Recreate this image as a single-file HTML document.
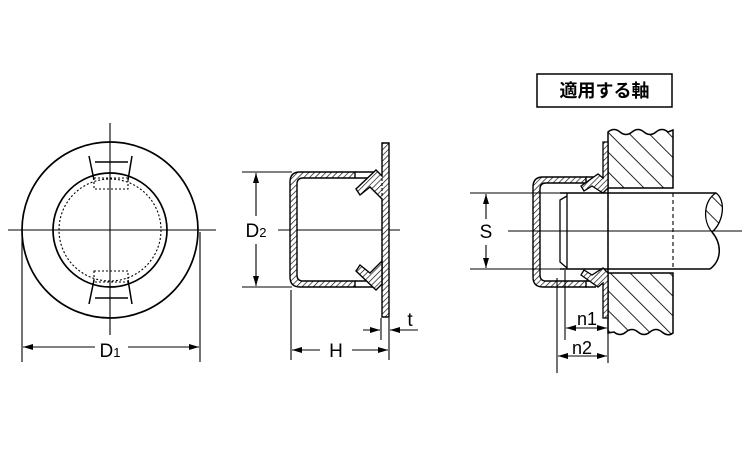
<!DOCTYPE html>
<html><head><meta charset="utf-8"><style>
html,body{margin:0;padding:0;background:#fff;}
svg{display:block;}
text{font-family:"Liberation Sans","Noto Sans CJK JP",sans-serif;fill:#000;}
</style></head><body>
<svg width="750" height="450" viewBox="0 0 750 450" xmlns="http://www.w3.org/2000/svg">
<defs>
<pattern id="h" width="4" height="4" patternUnits="userSpaceOnUse" patternTransform="rotate(45)">
<rect width="4" height="4" fill="#fff"/><line x1="0" y1="0" x2="0" y2="4" stroke="#000" stroke-width="1.3"/>
</pattern>
<pattern id="w" width="14" height="14" patternUnits="userSpaceOnUse" patternTransform="rotate(-45)">
<rect width="14" height="14" fill="#fff"/><line x1="0" y1="0" x2="0" y2="14" stroke="#000" stroke-width="1.7"/>
</pattern>
<marker id="a" markerWidth="10" markerHeight="6" refX="10" refY="3" orient="auto-start-reverse" markerUnits="userSpaceOnUse">
<path d="M0,0 L10,3 L0,6 Z" fill="#000"/></marker>
</defs>
<g fill="none" stroke="#000" stroke-width="1.1">
<!-- front view -->
<line x1="8" y1="230" x2="216" y2="230"/>
<line x1="110" y1="123" x2="110" y2="335"/>
<circle cx="110" cy="230" r="88" stroke-width="1.7"/>
<circle cx="110" cy="230" r="57" stroke-width="1.7"/>
<circle cx="110" cy="230" r="51" stroke-dasharray="2,2"/>
<path d="M89,156 L94,180 M132,156 L128,180 M95,162 H128" stroke-width="1.5"/>
<path d="M89,304 L94,280 M132,304 L128,280 M95,298 H128" stroke-width="1.5"/>
<rect x="94" y="178" width="34" height="11" stroke-dasharray="2,2"/>
<rect x="94" y="271" width="34" height="11" stroke-dasharray="2,2"/>
<line x1="22" y1="232" x2="22" y2="362"/>
<line x1="200" y1="232" x2="200" y2="362"/>
<line x1="23" y1="347" x2="95" y2="347" marker-start="url(#a)"/>
<line x1="128" y1="347" x2="199" y2="347" marker-end="url(#a)"/>

<!-- side view -->
<line x1="278" y1="230" x2="400" y2="230"/>
<path d="M355,172 H300 Q290,172 290,182 V277 Q290,287 300,287 H355 V281 H303 Q297,281 297,275 V184 Q297,178 303,178 H355 Z" fill="url(#h)" stroke-width="1.4"/>
<path d="M355,172 H376 M355,178 H370 M355,287 H376 M355,281 H370" stroke-width="1.4"/>
<path d="M382,143 H389 V317 H382 V199 L370,187 L360,195 L356,189 L376,170 L382,176 Z" fill="url(#h)" stroke-width="1.4"/>
<path d="M382,261 L370,273 L360,265 L356,271 L376,290 L382,284 Z" fill="url(#h)" stroke-width="1.4"/>
<line x1="382" y1="178" x2="382" y2="282" stroke-dasharray="3,2"/>
<line x1="242" y1="172" x2="292" y2="172"/>
<line x1="242" y1="287" x2="292" y2="287"/>
<line x1="256" y1="173" x2="256" y2="216" marker-start="url(#a)"/>
<line x1="256" y1="244" x2="256" y2="286" marker-end="url(#a)"/>
<line x1="291" y1="290" x2="291" y2="360"/>
<line x1="389" y1="318" x2="389" y2="360"/>
<line x1="381" y1="318" x2="381" y2="340"/>
<line x1="292" y1="350" x2="320" y2="350" marker-start="url(#a)"/>
<line x1="352" y1="350" x2="388" y2="350" marker-end="url(#a)"/>
<line x1="363" y1="330" x2="380" y2="330" marker-end="url(#a)"/>
<line x1="390" y1="330" x2="418" y2="330" marker-start="url(#a)"/>

<!-- application view -->
<rect x="537" y="74" width="135" height="33" stroke-width="1.5"/>
<path d="M608,132 Q614,127 620,132 Q626,137 632,132 Q638,127 644,132 Q650,137 656,132 Q662,127 668,132 L673,130 V188 H608 Z" fill="url(#w)" stroke-width="1.5"/>
<path d="M608,273 H673 V333 Q668,337 662,332 Q656,327 650,332 Q644,337 638,332 Q632,327 626,332 Q620,337 614,332 L608,333 Z" fill="url(#w)" stroke-width="1.5"/>
<line x1="608" y1="188" x2="608" y2="273" stroke-width="1.5"/>
<path d="M560,193 H716 M560,269 H710" stroke-width="1.5"/>
<path d="M716,193 C704,200 702,220 712,232 C724,222 726,200 716,193 Z" fill="url(#w)" stroke-width="1.3"/>
<path d="M712,232 C722,244 722,260 710,269" stroke-width="1.5"/>
<path d="M567,196 L560,200 V262 L567,268 M567,193 V269" stroke-width="1.3"/>
<line x1="608" y1="193" x2="608" y2="269" stroke-dasharray="4,3"/>
<line x1="673" y1="193" x2="673" y2="269" stroke-dasharray="4,3"/>
<path d="M586,177 H543 Q533,177 533,187 V277 Q533,287 543,287 H586 V281 H546 Q540,281 540,275 V189 Q540,183 546,183 H586 Z" fill="url(#h)" stroke-width="1.4"/>
<path d="M586,177 H596 M586,183 H592 M586,287 H596 M586,281 H592" stroke-width="1.4"/>
<path d="M603,142 H608 V188 L603,193 L592,186 L584,191 L581,186 L598,174 L603,178 Z" fill="url(#h)" stroke-width="1.3"/>
<path d="M603,318 H608 V273 L603,268 L592,275 L584,270 L581,275 L598,287 L603,283 Z" fill="url(#h)" stroke-width="1.3"/>
<line x1="508" y1="231" x2="742" y2="231"/>
<line x1="470" y1="193" x2="560" y2="193"/>
<line x1="470" y1="269" x2="560" y2="269"/>
<line x1="486" y1="194" x2="486" y2="219" marker-start="url(#a)"/>
<line x1="486" y1="245" x2="486" y2="268" marker-end="url(#a)"/>
<line x1="557" y1="278" x2="557" y2="373"/>
<line x1="565" y1="270" x2="565" y2="340"/>
<line x1="608" y1="318" x2="608" y2="363"/>
<line x1="566" y1="328" x2="607" y2="328" marker-start="url(#a)" marker-end="url(#a)"/>
<line x1="558" y1="356" x2="607" y2="356" marker-start="url(#a)" marker-end="url(#a)"/>
</g>
<text x="110" y="357" font-size="19" text-anchor="middle">D<tspan font-size="13">1</tspan></text>
<text x="256" y="237" font-size="19" text-anchor="middle">D<tspan font-size="13">2</tspan></text>
<text x="336" y="357" font-size="19" text-anchor="middle">H</text>
<text x="410" y="326" font-size="19" text-anchor="middle">t</text>
<text x="486" y="238" font-size="19" text-anchor="middle">S</text>
<text x="587" y="325" font-size="18" text-anchor="middle">n1</text>
<text x="582" y="354" font-size="18" text-anchor="middle">n2</text>
<text x="604.5" y="97" font-size="18" font-weight="bold" text-anchor="middle" font-family="'Noto Sans CJK JP',sans-serif">適用する軸</text>
</svg>
</body></html>
